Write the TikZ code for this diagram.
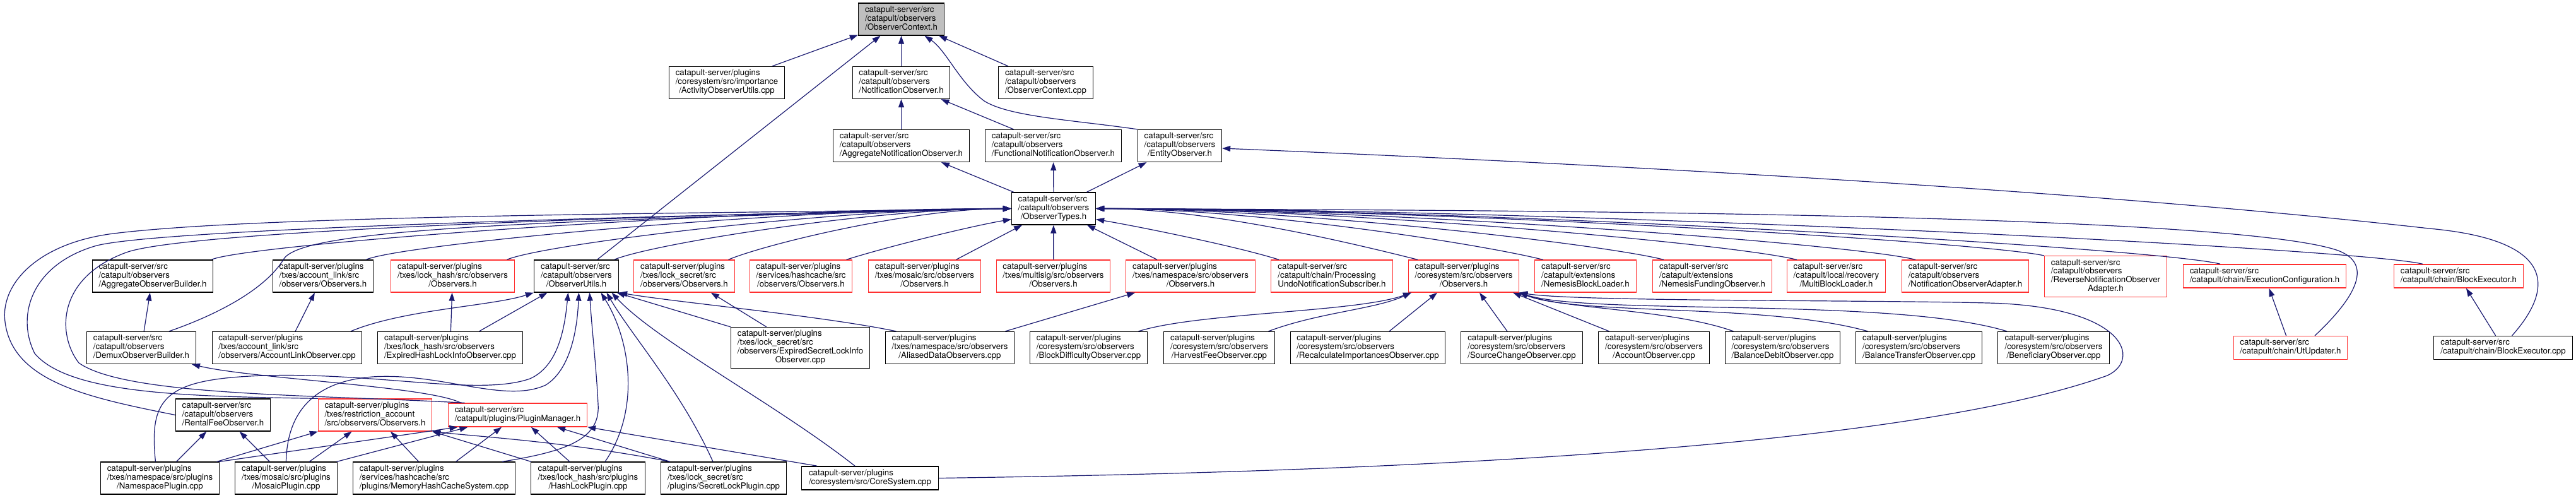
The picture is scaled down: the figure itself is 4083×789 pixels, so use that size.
\documentclass[tikz,border=0pt]{standalone}
\usepackage{fontspec}
\setmainfont{TeX Gyre Heros}
\usepackage{tikz}
\usetikzlibrary{arrows.meta}
\definecolor{edgeblue}{HTML}{191970}
\definecolor{truncred}{HTML}{FF3030}
% last line of a doxygen label is centred, the others flush left
\newcommand{\flab}[2]{\begin{tabular}{@{}l@{}}#1\\\multicolumn{1}{@{}c@{}}{#2}\end{tabular}}

\begin{document}
\begin{tikzpicture}[
  x=1pt, y=-1pt,
  every node/.style={font=\fontsize{13.3}{13.5}\selectfont},
  box/.style={draw=black, line width=1.3pt, fill=white, inner xsep=3pt, inner ysep=4.75pt, minimum width=#1},
  redbox/.style={box=#1, draw=truncred},
  rootbox/.style={box=#1, fill=black!25},
  arr/.style={-{Triangle[length=13pt,width=9pt]}, draw=edgeblue, line width=1.2pt},
]
\useasboundingbox (0,0) rectangle (4083,789);

 % ---- top: ObserverContext.h and its direct users ----
 \node[rootbox=136pt] (ctx) at (1428.5,30.5) {\flab{catapult-server/src\\/catapult/observers}{/ObserverContext.h}};
 \node[box=183pt] (actutil) at (1152,131) {\flab{catapult-server/plugins\\/coresystem/src/importance}{/ActivityObserverUtils.cpp}};
 \node[box=154pt] (notif) at (1428.5,131) {\flab{catapult-server/src\\/catapult/observers}{/NotificationObserver.h}};
 \node[box=150pt] (ctxcpp) at (1657.5,131) {\flab{catapult-server/src\\/catapult/observers}{/ObserverContext.cpp}};
 \node[box=216pt] (aggnot) at (1428.5,231) {\flab{catapult-server/src\\/catapult/observers}{/AggregateNotificationObserver.h}};
 \node[box=216pt] (funcnot) at (1669.5,231) {\flab{catapult-server/src\\/catapult/observers}{/FunctionalNotificationObserver.h}};
 \node[box=133pt] (entity) at (1870,231) {\flab{catapult-server/src\\/catapult/observers}{/EntityObserver.h}};
 \node[box=133pt] (types) at (1670,330.5) {\flab{catapult-server/src\\/catapult/observers}{/ObserverTypes.h}};

 % ---- row of headers including ObserverTypes.h ----
 \node[box=191pt] (aggbld) at (242,437.5) {\flab{catapult-server/src\\/catapult/observers}{/AggregateObserverBuilder.h}};
 \node[box=159pt] (alobs) at (512,437.5) {\flab{catapult-server/plugins\\/txes/account\_link/src}{/observers/Observers.h}};
 \node[redbox=196pt] (hlobs) at (717.5,437.5) {\flab{catapult-server/plugins\\/txes/lock\_hash/src/observers}{/Observers.h}};
 \node[box=134pt] (utils) at (913.5,437.5) {\flab{catapult-server/src\\/catapult/observers}{/ObserverUtils.h}};
 \node[redbox=160pt] (slobs) at (1084.5,437.5) {\flab{catapult-server/plugins\\/txes/lock\_secret/src}{/observers/Observers.h}};
 \node[redbox=162pt] (hcobs) at (1269.5,437.5) {\flab{catapult-server/plugins\\/services/hashcache/src}{/observers/Observers.h}};
 \node[redbox=178pt] (mosobs) at (1465.5,437.5) {\flab{catapult-server/plugins\\/txes/mosaic/src/observers}{/Observers.h}};
 \node[redbox=180pt] (msobs) at (1669.5,437.5) {\flab{catapult-server/plugins\\/txes/multisig/src/observers}{/Observers.h}};
 \node[redbox=205pt] (nsobs) at (1887,437.5) {\flab{catapult-server/plugins\\/txes/namespace/src/observers}{/Observers.h}};
 \node[redbox=193pt] (undo) at (2111,437.5) {\flab{catapult-server/src\\/catapult/chain/Processing}{UndoNotificationSubscriber.h}};
 \node[redbox=175pt] (csobs) at (2320,437.5) {\flab{catapult-server/plugins\\/coresystem/src/observers}{/Observers.h}};
 \node[redbox=161pt] (nemload) at (2513,437.5) {\flab{catapult-server/src\\/catapult/extensions}{/NemesisBlockLoader.h}};
 \node[redbox=189pt] (nemfund) at (2714,437.5) {\flab{catapult-server/src\\/catapult/extensions}{/NemesisFundingObserver.h}};
 \node[redbox=156pt] (mbload) at (2910.5,437.5) {\flab{catapult-server/src\\/catapult/local/recovery}{/MultiBlockLoader.h}};
 \node[redbox=201pt] (noadapt) at (3115,437.5) {\flab{catapult-server/src\\/catapult/observers}{/NotificationObserverAdapter.h}};
 \node[redbox=194pt] (revadapt) at (3337.5,438) {\flab{catapult-server/src\\/catapult/observers\\/ReverseNotificationObserver}{Adapter.h}};
 \node[redbox=258pt] (execcfg) at (3589.5,437.5) {\flab{catapult-server/src}{/catapult/chain/ExecutionConfiguration.h}};
 \node[redbox=205pt] (blkexe) at (3897,437.5) {\flab{catapult-server/src}{/catapult/chain/BlockExecutor.h}};

 % ---- sources and builders ----
 \node[box=173pt] (demux) at (224,551) {\flab{catapult-server/src\\/catapult/observers}{/DemuxObserverBuilder.h}};
 \node[box=237pt] (alcpp) at (455,551) {\flab{catapult-server/plugins\\/txes/account\_link/src}{/observers/AccountLinkObserver.cpp}};
 \node[box=230pt] (ehlcpp) at (713.5,551) {\flab{catapult-server/plugins\\/txes/lock\_hash/src/observers}{/ExpiredHashLockInfoObserver.cpp}};
 \node[box=220pt] (eslcpp) at (1268.5,551) {\flab{catapult-server/plugins\\/txes/lock\_secret/src\\/observers/ExpiredSecretLockInfo}{Observer.cpp}};
 \node[box=204pt] (aliased) at (1505.5,551) {\flab{catapult-server/plugins\\/txes/namespace/src/observers}{/AliasedDataObservers.cpp}};
 \node[box=186pt] (blkdiff) at (1725.5,551) {\flab{catapult-server/plugins\\/coresystem/src/observers}{/BlockDifficultyObserver.cpp}};
 \node[box=176pt] (harvest) at (1932.5,551) {\flab{catapult-server/plugins\\/coresystem/src/observers}{/HarvestFeeObserver.cpp}};
 \node[box=245pt] (recalc) at (2168,551) {\flab{catapult-server/plugins\\/coresystem/src/observers}{/RecalculateImportancesObserver.cpp}};
 \node[box=193pt] (srcchg) at (2412,551) {\flab{catapult-server/plugins\\/coresystem/src/observers}{/SourceChangeObserver.cpp}};
 \node[box=176pt] (acctobs) at (2621.5,551) {\flab{catapult-server/plugins\\/coresystem/src/observers}{/AccountObserver.cpp}};
 \node[box=182pt] (baldebit) at (2825.5,551) {\flab{catapult-server/plugins\\/coresystem/src/observers}{/BalanceDebitObserver.cpp}};
 \node[box=200pt] (baltrans) at (3041.5,551) {\flab{catapult-server/plugins\\/coresystem/src/observers}{/BalanceTransferObserver.cpp}};
 \node[box=177pt] (benef) at (3255,551) {\flab{catapult-server/plugins\\/coresystem/src/observers}{/BeneficiaryObserver.cpp}};
 \node[redbox=180pt] (utupd) at (3630.5,551) {\flab{catapult-server/src}{/catapult/chain/UtUpdater.h}};
 \node[box=220pt] (blkexecpp) at (3967.5,551) {\flab{catapult-server/src}{/catapult/chain/BlockExecutor.cpp}};

 \node[box=150pt] (rental) at (353.5,657.5) {\flab{catapult-server/src\\/catapult/observers}{/RentalFeeObserver.h}};
 \node[redbox=180pt] (restr) at (594.5,657.5) {\flab{catapult-server/plugins\\/txes/restriction\_account}{/src/observers/Observers.h}};
 \node[redbox=220pt] (plugmgr) at (820.5,657.5) {\flab{catapult-server/src}{/catapult/plugins/PluginManager.h}};

 % ---- plugins at the bottom ----
 \node[box=188pt] (nsplug) at (253.5,757.5) {\flab{catapult-server/plugins\\/txes/namespace/src/plugins}{/NamespacePlugin.cpp}};
 \node[box=162pt] (mosplug) at (453.5,757.5) {\flab{catapult-server/plugins\\/txes/mosaic/src/plugins}{/MosaicPlugin.cpp}};
 \node[box=257pt] (memhc) at (688,757.5) {\flab{catapult-server/plugins\\/services/hashcache/src}{/plugins/MemoryHashCacheSystem.cpp}};
 \node[box=181pt] (hlplug) at (932,757.5) {\flab{catapult-server/plugins\\/txes/lock\_hash/src/plugins}{/HashLockPlugin.cpp}};
 \node[box=199pt] (slplug) at (1147,757.5) {\flab{catapult-server/plugins\\/txes/lock\_secret/src}{/plugins/SecretLockPlugin.cpp}};
 \node[box=217pt] (coresys) at (1379,757.5) {\flab{catapult-server/plugins}{/coresystem/src/CoreSystem.cpp}};

 % ---- into ObserverContext.h ----
 \draw[arr] (actutil) -- (ctx);
 \draw[arr] (notif) -- (ctx);
 \draw[arr] (ctxcpp) -- (ctx);
 \draw[arr] (utils) -- (ctx);
 \draw[arr] (entity.north west) .. controls (1700,190) and (1600,185) .. (1560,160) .. controls (1520,130) and (1500,80) .. ([xshift=37pt]ctx.south);
 \draw[arr] (aggnot) -- (notif);
 \draw[arr] (funcnot) -- (notif);
 \draw[arr] (types) -- (aggnot);
 \draw[arr] (types) -- (funcnot);
 \draw[arr] (types) -- (entity);
 \draw[arr] ([xshift=14pt]blkexecpp.north) .. controls (4050,455) and (4050,380) .. (3850,362) .. controls (3300,300) and (2500,258) .. ([yshift=-4pt]entity.east);

 % ---- into ObserverTypes.h, from the left ----
 \draw[arr] (rental.west) .. controls (140,630) and (20,605) .. (8,510) .. controls (0,450) and (60,385) .. (180,370) .. controls (420,340) and (1150,338) .. (types.west);
 \draw[arr] (restr.north west) .. controls (300,628) and (110,625) .. (55,560) .. controls (25,500) and (50,420) .. (150,390) .. controls (250,360) and (1200,338) .. (types.west);
 \draw[arr] ([xshift=-84pt]plugmgr.north) .. controls (500,625) and (200,628) .. (125,575) .. controls (90,530) and (90,440) .. (200,400) .. controls (310,360) and (1250,336) .. (types.west);
 \draw[arr] ([xshift=44pt]demux.north) .. controls (340,500) and (420,460) .. (450,410) .. controls (480,365) and (800,350) .. (types.west);
 \draw[arr] ([xshift=93pt]aggbld.north) .. controls +(60,-25) and +(-444,0) .. (types.west);
 \draw[arr] ([xshift=68pt]alobs.north) .. controls +(60,-25) and +(-358,0) .. (types.west);
 \draw[arr] ([xshift=86pt]hlobs.north) .. controls +(60,-25) and +(-280,0) .. (types.west);
 \draw[arr] ([xshift=60pt]utils.north) .. controls +(60,-25) and +(-220,0) .. (types.west);
 \draw[arr] ([xshift=70pt]slobs.north) .. controls +(60,-25) and +(-157,0) .. (types.west);
 \draw[arr] ([xshift=72pt]hcobs.north) .. controls +(70,-22) and +(-60,10) .. ([yshift=-17pt]types.west);
 \draw[arr] (mosobs) -- (types);
 \draw[arr] (msobs) -- (types);
 \draw[arr] (nsobs) -- (types);

 % ---- into ObserverTypes.h, from the right ----
 \draw[arr] ([xshift=-84pt]undo.north) .. controls +(-70,-22) and +(60,10) .. ([yshift=-17pt]types.east);
 \draw[arr] ([xshift=-73pt]csobs.north) .. controls +(-100,-25) and +(180,0) .. (types.east);
 \draw[arr] ([xshift=-67pt]nemload.north) .. controls +(-100,-25) and +(250,0) .. (types.east);
 \draw[arr] ([xshift=-77pt]nemfund.north) .. controls +(-100,-25) and +(315,0) .. (types.east);
 \draw[arr] ([xshift=-62.5pt]mbload.north) .. controls +(-100,-25) and +(390,0) .. (types.east);
 \draw[arr] ([xshift=-79pt]noadapt.north) .. controls +(-100,-25) and +(455,0) .. (types.east);
 \draw[arr] (revadapt.north west) .. controls +(-100,-22) and +(526,0) .. (types.east);
 \draw[arr] ([xshift=-70.5pt]execcfg.north) .. controls +(-100,-25) and +(624,0) .. (types.east);
 \draw[arr] ([xshift=-57pt]blkexe.north) .. controls +(-100,-25) and +(736,0) .. (types.east);
 \draw[arr] ([xshift=38.5pt]utupd.north) .. controls (3735,470) and (3765,415) .. (3700,395) .. controls (3500,335) and (2300,333) .. (types.east);

 % ---- one level up ----
 \draw[arr] (demux) -- (aggbld);
 \draw[arr] (alcpp) -- (alobs);
 \draw[arr] (ehlcpp) -- (hlobs);
 \draw[arr] (eslcpp) -- (slobs);
 \draw[arr] (aliased) -- (nsobs);
 \draw[arr] (utupd) -- (execcfg);
 \draw[arr] (blkexecpp) -- (blkexe);

 % ---- into ObserverUtils.h ----
 \draw[arr] ([xshift=101pt]alcpp.north) .. controls (640,490) and (780,485) .. (utils.south west);
 \draw[arr] (ehlcpp) -- (utils);
 \draw[arr] (eslcpp.north west) -- ([xshift=64pt]utils.south);
 \draw[arr] ([xshift=-85pt]aliased.north) .. controls (1300,500) and (1080,480) .. (utils.south east);
 \draw[arr] ([xshift=-7pt]nsplug.north) .. controls (236,630) and (260,600) .. (420,595) .. controls (600,590) and (760,628) .. (840,600) .. controls (885,580) and (895,520) .. ([xshift=-13pt]utils.south);
 \draw[arr] (mosplug.north) .. controls (455,660) and (490,605) .. (590,597) .. controls (700,590) and (800,640) .. (865,610) .. controls (905,585) and (915,520) .. ([xshift=4pt]utils.south);
 \draw[arr] ([xshift=108pt]memhc.north) .. controls (900,715) and (952,695) .. (948,640) .. controls (945,580) and (938,520) .. ([xshift=21pt]utils.south);
 \draw[arr] ([xshift=27pt]hlplug.north) .. controls (1015,650) and (1000,540) .. ([xshift=39pt]utils.south);
 \draw[arr] ([xshift=-17pt]slplug.north) .. controls (1080,620) and (1000,530) .. ([xshift=48pt]utils.south);
 \draw[arr] ([xshift=-24pt]coresys.north) .. controls (1230,640) and (1040,540) .. ([xshift=56pt]utils.south);

 % ---- plugins into the row above ----
 \draw[arr] (nsplug) -- (rental);
 \draw[arr] (mosplug) -- (rental);
 \draw[arr] ([xshift=90pt]nsplug.north) -- (restr.south west);
 \draw[arr] (mosplug) -- (restr);
 \draw[arr] (memhc) -- (restr);
 \draw[arr] ([xshift=-90pt]hlplug.north) -- (restr.south east);
 \draw[arr] ([xshift=-85pt]slplug.north) .. controls (900,700) and (760,692) .. (restr.south east);
 \draw[arr] ([xshift=94pt]nsplug.north) -- ([xshift=-95pt]plugmgr.south);
 \draw[arr] ([xshift=80pt]mosplug.north) -- ([xshift=-79pt]plugmgr.south);
 \draw[arr] (memhc) -- (plugmgr);
 \draw[arr] (hlplug) -- (plugmgr);
 \draw[arr] (slplug) -- (plugmgr);
 \draw[arr] ([xshift=-84pt]coresys.north) -- (plugmgr.south east);
 \draw[arr] ([xshift=-90pt]plugmgr.north) .. controls (680,612) and (400,600) .. ([xshift=80pt]demux.south);

 % ---- into coresystem Observers.h ----
 \draw[arr] ([xshift=79pt]blkdiff.north) .. controls (1900,495) and (2150,495) .. ([xshift=-83pt]csobs.south);
 \draw[arr] ([xshift=78pt]harvest.north) .. controls (2090,495) and (2180,490) .. ([xshift=-83pt]csobs.south);
 \draw[arr] ([xshift=34pt]recalc.north) -- ([xshift=-42pt]csobs.south);
 \draw[arr] ([xshift=-23pt]srcchg.north) -- ([xshift=25pt]csobs.south);
 \draw[arr] ([xshift=-71pt]acctobs.north) -- ([xshift=78pt]csobs.south);
 \draw[arr] ([xshift=-78pt]baldebit.north) .. controls (2650,490) and (2480,490) .. (csobs.south east);
 \draw[arr] ([xshift=-81pt]baltrans.north) .. controls (2800,480) and (2500,500) .. (csobs.south east);
 \draw[arr] ([xshift=-74pt]benef.north) .. controls (3000,470) and (2520,500) .. (csobs.south east);
 \draw[arr] (coresys.east) .. controls (2400,745) and (3060,695) .. (3340,595) .. controls (3395,570) and (3370,485) .. (3150,480) .. controls (2950,475) and (2500,478) .. (csobs.south east);

\end{tikzpicture}
\end{document}
